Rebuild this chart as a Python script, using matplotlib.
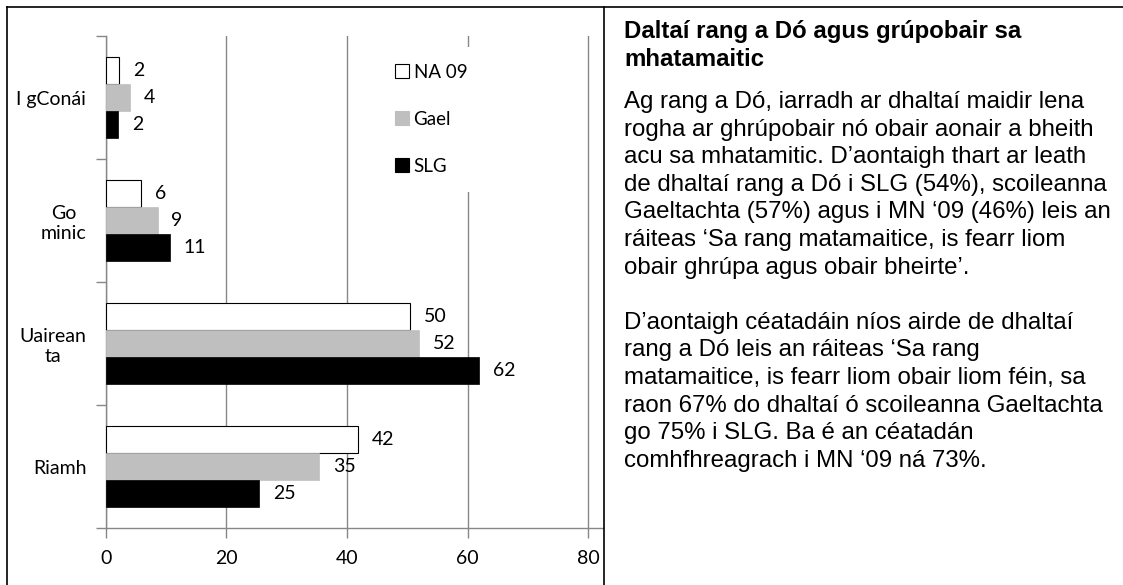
import matplotlib.pyplot as plt
from matplotlib.patches import Patch
from matplotlib.lines import Line2D
import numpy as np

# data
categories = ["I gConái", "Go\nminic", "Uairean\nta", "Riamh"]
series_names = ["NA 09", "Gael", "SLG"]
na09 = [2.2, 5.8, 50.4, 41.8]
gael = [4.0, 8.6, 52.0, 35.4]
slg = [2.1, 10.6, 61.9, 25.4]
x_ticks = [0, 20, 40, 60, 80]

title_lines = ["Daltaí rang a Dó agus grúpobair sa", "mhatamaitic"]
para1 = [
    "Ag rang a Dó, iarradh ar dhaltaí maidir lena",
    "rogha ar ghrúpobair nó obair aonair a bheith",
    "acu sa mhatamitic. D’aontaigh thart ar leath",
    "de dhaltaí rang a Dó i SLG (54%), scoileanna",
    "Gaeltachta (57%) agus i MN ‘09 (46%) leis an",
    "ráiteas ‘Sa rang matamaitice, is fearr liom",
    "obair ghrúpa agus obair bheirte’.",
]
para2 = [
    "D’aontaigh céatadáin níos airde de dhaltaí",
    "rang a Dó leis an ráiteas ‘Sa rang",
    "matamaitice, is fearr liom obair liom féin, sa",
    "raon 67% do dhaltaí ó scoileanna Gaeltachta",
    "go 75% i SLG. Ba é an céatadán",
    "comhfhreagrach i MN ‘09 ná 73%.",
]

W, H = 1123, 585
fig = plt.figure(figsize=(W / 100, H / 100), dpi=100)
fig.patch.set_facecolor("white")

chart_font = "Lato"
text_font = "Liberation Sans"
fs = 14
grey = "#878787"

ax = fig.add_axes([105.7 / W, 1 - 528 / H, 497.5 / W, 492 / H])

y = np.arange(len(categories))
h = 0.22
styles = [
    dict(color="white", edgecolor="black", linewidth=0.8),
    dict(color="#BFBFBF", edgecolor="#BFBFBF", linewidth=0.5),
    dict(color="black", edgecolor="black", linewidth=0.5),
]
for k, (vals, st) in enumerate(zip([na09, gael, slg], styles)):
    bars = ax.barh(y + (k - 1) * h, vals, height=h, zorder=3, **st)
    ax.bar_label(bars, labels=[f"{v:.0f}" for v in vals], padding=10,
                 fontsize=fs, family=chart_font)

ax.set_xlim(0, 82.5)
ax.set_ylim(len(categories) - 0.5, -0.5)
ax.set_xticks(x_ticks)
ax.set_xticklabels([str(t) for t in x_ticks], fontsize=fs, family=chart_font)
ax.xaxis.grid(True, color=grey, linewidth=1)
ax.set_axisbelow(True)

ax.set_yticks(np.arange(len(categories) + 1) - 0.5)
ax.set_yticklabels([])
ax.set_yticks(y, minor=True)
ax.set_yticklabels(categories, minor=True, fontsize=fs, family=chart_font,
                   ha="right", multialignment="center")
ax.tick_params(axis="y", which="minor", length=0, pad=14)
ax.tick_params(axis="both", which="major", length=7, color=grey, width=1)
ax.tick_params(axis="x", pad=9)

for side in ["top", "right"]:
    ax.spines[side].set_visible(False)
for side in ["left", "bottom"]:
    ax.spines[side].set_color(grey)
    ax.spines[side].set_linewidth(1)

handles = [Patch(facecolor=s["color"], edgecolor=("black" if i == 0 else s["color"]),
                 linewidth=0.8) for i, s in enumerate(styles)]
leg = ax.legend(handles, series_names, loc="upper left",
                bbox_to_anchor=(378 / W, 1 - 47 / H), bbox_transform=fig.transFigure,
                borderaxespad=0, borderpad=0.9, frameon=True, fancybox=False,
                framealpha=1, edgecolor="none", facecolor="white",
                handlelength=0.75, handleheight=0.75, handletextpad=0.25,
                labelspacing=1.6, prop=dict(family=chart_font, size=13.5))
leg.set_zorder(5)

# frame lines around the chart and the text box
def px_line(x0, y0, x1, y1, **kw):
    fig.add_artist(Line2D([x0 / W, x1 / W], [1 - y0 / H, 1 - y1 / H],
                          transform=fig.transFigure, **kw))

px_line(7, 6.5, W, 6.5, color="black", linewidth=1.2)
px_line(7, 6.5, 7, H, color="black", linewidth=1.2)
px_line(604, 6.5, 604, H, color="black", linewidth=1.2)

# right hand text
tx = 624 / W
tsize = 17.3
base = [38, 66]
for line, b in zip(title_lines, base):
    fig.text(tx, 1 - b / H, line, fontsize=tsize, family=text_font,
             fontweight="bold", va="baseline")
step = 27.6
start1 = 108
for i, line in enumerate(para1):
    fig.text(tx, 1 - (start1 + i * step) / H, line, fontsize=tsize,
             family=text_font, va="baseline")
start2 = start1 + (len(para1) + 1) * step
for i, line in enumerate(para2):
    fig.text(tx, 1 - (start2 + i * step) / H, line, fontsize=tsize,
             family=text_font, va="baseline")

fig.savefig("out.png", dpi=100)
